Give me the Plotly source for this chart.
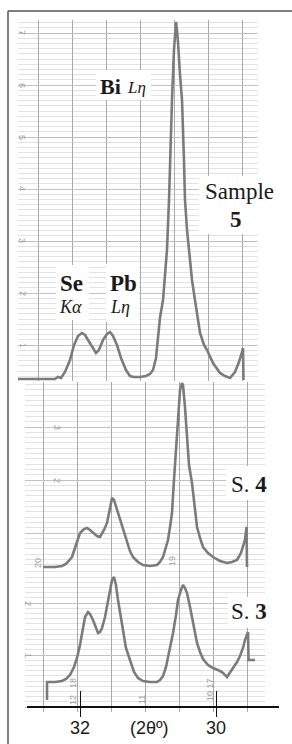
import plotly.graph_objects as go

# ---------------- data (2θ in degrees, intensity in chart-paper divisions) ----------------
s5_2theta = [32.912, 32.735, 32.515, 32.368, 32.324, 32.279, 32.221, 32.147, 32.088, 32.029,
             31.971, 31.926, 31.882, 31.824, 31.765, 31.721, 31.662, 31.603, 31.559, 31.515,
             31.456, 31.397, 31.324, 31.265, 31.206, 31.118, 31.029, 30.971, 30.926, 30.882,
             30.853, 30.824, 30.779, 30.750, 30.721, 30.691, 30.662, 30.647, 30.618, 30.603,
             30.588, 30.574, 30.559, 30.529, 30.500, 30.471, 30.456, 30.426, 30.397, 30.353,
             30.309, 30.265, 30.235, 30.176, 30.132, 30.044, 29.941, 29.868, 29.794, 29.721,
             29.662, 29.618, 29.603, 29.596]
s5_int = [0.346, 0.346, 0.337, 0.346, 0.385, 0.365, 0.481, 0.712, 1.0, 1.173,
          1.231, 1.192, 1.096, 0.962, 0.846, 0.904, 1.096, 1.212, 1.25, 1.173,
          1.0, 0.75, 0.519, 0.404, 0.385, 0.385, 0.404, 0.442, 0.519, 0.75,
          1.096, 1.519, 1.865, 2.346, 2.827, 3.788, 5.135, 5.712, 6.673, 7.058,
          7.212, 7.058, 6.827, 6.192, 5.712, 4.558, 3.788, 3.212, 2.827, 2.25,
          1.865, 1.481, 1.231, 1.0, 0.904, 0.654, 0.462, 0.404, 0.365, 0.481,
          0.673, 0.865, 0.942, 0.327]

s4_2theta = [32.544, 32.368, 32.265, 32.206, 32.118, 32.059, 32.000, 31.941, 31.897, 31.853,
             31.809, 31.750, 31.706, 31.647, 31.603, 31.559, 31.529, 31.500, 31.456, 31.412,
             31.353, 31.309, 31.265, 31.221, 31.147, 31.074, 30.971, 30.868, 30.824, 30.779,
             30.735, 30.706, 30.676, 30.647, 30.618, 30.588, 30.559, 30.529, 30.500, 30.485,
             30.456, 30.426, 30.397, 30.353, 30.324, 30.279, 30.235, 30.191, 30.118, 30.044,
             29.941, 29.838, 29.765, 29.691, 29.632, 29.574, 29.551, 29.544]
s4_int = [0.358, 0.358, 0.377, 0.415, 0.547, 0.774, 1.0, 1.075, 1.094, 1.057,
          1.0, 0.943, 0.925, 1.057, 1.189, 1.472, 1.660, 1.623, 1.434, 1.245,
          1.0, 0.811, 0.660, 0.547, 0.453, 0.396, 0.377, 0.396, 0.453, 0.547,
          0.717, 0.868, 1.113, 1.377, 2.0, 2.566, 3.226, 3.698, 3.830, 3.792,
          3.377, 2.755, 2.283, 1.943, 1.623, 1.113, 0.906, 0.736, 0.623, 0.547,
          0.472, 0.434, 0.453, 0.491, 0.623, 0.868, 1.113, 0.358]

s3_2theta = [32.485, 32.485, 32.368, 32.265, 32.206, 32.147, 32.088, 32.044, 32.000, 31.971,
             31.926, 31.882, 31.853, 31.809, 31.765, 31.735, 31.706, 31.676, 31.632, 31.603,
             31.559, 31.529, 31.500, 31.471, 31.441, 31.397, 31.368, 31.324, 31.265, 31.206,
             31.147, 31.074, 30.971, 30.868, 30.824, 30.779, 30.735, 30.706, 30.662, 30.632,
             30.588, 30.559, 30.515, 30.485, 30.456, 30.426, 30.382, 30.353, 30.309, 30.279,
             30.235, 30.191, 30.118, 30.044, 29.971, 29.912, 29.838, 29.794, 29.750, 29.691,
             29.647, 29.603, 29.574, 29.529, 29.522, 29.426]
s3_int = [0.135, 0.481, 0.481, 0.5, 0.538, 0.615, 0.769, 0.942, 1.192, 1.423,
          1.731, 1.827, 1.788, 1.673, 1.519, 1.423, 1.442, 1.519, 1.731, 1.923,
          2.212, 2.442, 2.5, 2.346, 2.058, 1.712, 1.423, 1.135, 0.904, 0.673,
          0.558, 0.5, 0.481, 0.481, 0.519, 0.596, 0.769, 0.942, 1.192, 1.423,
          1.769, 2.058, 2.25, 2.346, 2.288, 2.192, 1.923, 1.731, 1.423, 1.231,
          1.058, 0.923, 0.808, 0.75, 0.712, 0.673, 0.577, 0.654, 0.75, 0.865,
          0.981, 1.135, 1.288, 1.442, 0.904, 0.904]

axis_tick_vals = [32, 30]
axis_tick_text = ["32", "30"]
axis_title = "(2θº)"

# ---------------- geometry ----------------
W, H = 292, 744
def fx(px):
    return px / W
def fy(py):
    return 1 - py / H
def theta(px):
    # calibration of the printed 2θ scale: 32° at x=80px, 30° at x=216px
    return 32 - (px - 80) / 68.0

SERIF = "Times New Roman, Liberation Serif, serif"
SANS = "Arial, Liberation Sans, sans-serif"
TRACE_COLOR = "#7b7b7b"

fig = go.Figure()
for xs, ys, xa, ya in [(s5_2theta, s5_int, "x", "y"),
                       (s4_2theta, s4_int, "x2", "y2"),
                       (s3_2theta, s3_int, "x3", "y3")]:
    fig.add_trace(go.Scatter(x=xs, y=ys, xaxis=xa, yaxis=ya, mode="lines",
                             line=dict(color=TRACE_COLOR, width=2.6),
                             hoverinfo="skip", showlegend=False))
# carrier traces for the printed 2θ axis
for xa in ["x4", "x5"]:
    fig.add_trace(go.Scatter(x=[31], y=[0], xaxis=xa, yaxis="y4", mode="markers",
                             marker=dict(opacity=0), hoverinfo="skip", showlegend=False))

def strip_x(px0, px1, grid0):
    return dict(domain=[fx(px0), fx(px1)], range=[theta(px0), theta(px1)],
                showgrid=True, gridcolor="#a9a9a9", gridwidth=1,
                tick0=grid0, dtick=0.5, showticklabels=False, ticks="",
                zeroline=False, showline=False)

def strip_y(py0, py1, zero_px, unit_px, anchor):
    return dict(domain=[fy(py1), fy(py0)],
                range=[(zero_px - py1) / unit_px, (zero_px - py0) / unit_px],
                showgrid=True, gridcolor="#c2c2c2", gridwidth=1, tick0=0, dtick=1,
                minor=dict(showgrid=True, gridcolor="#e2e2e2", gridwidth=1, tick0=0, dtick=0.1),
                showticklabels=False, ticks="", zeroline=False, showline=False,
                anchor=anchor)

fig.update_layout(
    width=W, height=H, margin=dict(l=0, r=0, t=0, b=0),
    paper_bgcolor="white", plot_bgcolor="rgba(0,0,0,0)", showlegend=False,
    xaxis=dict(**strip_x(18, 258, theta(72)), anchor="y"),
    yaxis=strip_y(20, 381, 397, 52, "x"),
    xaxis2=dict(**strip_x(25, 265, theta(77.3)), anchor="y2"),
    yaxis2=strip_y(382, 570, 586, 53, "x2"),
    xaxis3=dict(**strip_x(25, 265, theta(77.3)), anchor="y3"),
    yaxis3=strip_y(570, 712, 707, 52, "x3"),
    xaxis4=dict(domain=[fx(27), fx(279)], range=[theta(27), theta(279)],
                anchor="free", position=fy(707), showline=True, linecolor="#111",
                linewidth=1.6, showgrid=False, zeroline=False,
                tickvals=axis_tick_vals, ticktext=axis_tick_text, ticks="inside",
                ticklen=15, tickwidth=1.3, tickcolor="#111",
                tickfont=dict(family=SANS, size=18, color="#1a1a1a"),
                ticklabelstandoff=5),
    xaxis5=dict(domain=[fx(27), fx(279)], range=[theta(27), theta(279)],
                anchor="free", position=fy(707), showline=False, showgrid=False,
                zeroline=False, tickvals=axis_tick_vals, ticks="outside", ticklen=9,
                tickwidth=1.3, tickcolor="#111", showticklabels=False),
    yaxis4=dict(domain=[0, 0.01], visible=False, range=[1, 2], anchor="x4"),
)

shapes = [
    # frame of the page
    dict(type="line", xref="paper", yref="paper", x0=fx(8), x1=1.0, y0=fy(11), y1=fy(11),
         line=dict(color="#555", width=1.5)),
    dict(type="line", xref="paper", yref="paper", x0=fx(8), x1=fx(8), y0=fy(11), y1=0,
         line=dict(color="#555", width=1.5)),
]
# white patches under the labels
for x0, y0, x1, y1 in [(96, 70, 151, 100), (199, 176, 281, 234), (56, 265, 89, 320),
                       (106, 264, 139, 322), (226, 466, 272, 500), (228, 597, 270, 628)]:
    shapes.append(dict(type="rect", xref="paper", yref="paper", layer="above",
                       x0=fx(x0), x1=fx(x1), y0=fy(y1), y1=fy(y0),
                       fillcolor="white", line=dict(width=0)))
fig.update_layout(shapes=shapes)

ann = []
def label(text, px, py, size, family=SERIF, color="#1a1a1a", angle=0, xanchor="center"):
    ann.append(dict(text=text, x=fx(px), y=fy(py), xref="paper", yref="paper",
                    xanchor=xanchor, yanchor="middle", showarrow=False, textangle=angle,
                    font=dict(family=family, size=size, color=color)))

label("<b>Bi</b>", 110, 86, 22)
label("<i>Lη</i>", 136, 87, 17)
label("Sample", 239, 191, 23)
label("<b>5</b>", 236, 220, 23)
label("<b>Se</b>", 71, 283, 23)
label("<i>Kα</i>", 70, 307, 18)
label("<b>Pb</b>", 123, 283, 23)
label("<i>Lη</i>", 120, 307, 18)
label("S. <b>4</b>", 249, 484, 23)
label("S. <b>3</b>", 249, 611, 23)
label(axis_title, 149, 728, 18, family=SANS)

# faint numbers printed on the chart paper
for txt, px, py, ang in [("7", 22, 32, 90), ("6", 22, 85, 90), ("5", 22, 137, 90),
                         ("4", 22, 188, 90), ("3", 22, 240, 90), ("2", 23, 293, 90),
                         ("1", 23, 345, 90), ("3", 57, 427, 90), ("2", 57, 480, 90),
                         ("2", 28, 603, 90), ("1", 28, 655, 90),
                         ("20", 38, 563, -90), ("19", 172, 561, -90), ("18", 73, 683, -90),
                         ("12", 73, 700, -90), ("11", 142, 700, -90), ("10 17", 210, 690, -90)]:
    label(txt, px, py, 9, family=SANS, color="#a0a0a0", angle=ang)

fig.update_layout(annotations=ann)
fig.write_html("out.html", config={"displayModeBar": False, "responsive": False},
               post_script="document.body.style.margin='0';")
